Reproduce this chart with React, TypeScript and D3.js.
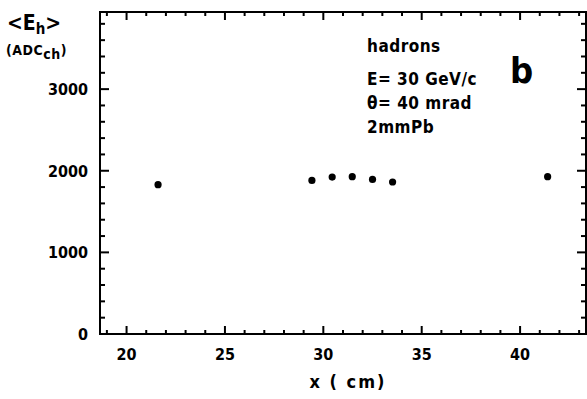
import React, { useEffect, useRef } from "react";
import * as d3 from "d3";

// measured points (x in cm, <Eh> in ADC channels)
const xPos = [21.6, 29.42, 30.45, 31.47, 32.5, 33.52, 41.4];
const eMean = [1830, 1882, 1923, 1927, 1894, 1862, 1927];

const xTickLabels = [20, 25, 30, 35, 40];
const yTickLabels = [0, 1000, 2000, 3000];
const infoLines = ["E= 30 GeV/c", "θ= 40 mrad", "2mmPb"];

const W = 587;
const H = 399;
const FONT = "'DejaVu Sans Condensed', 'DejaVu Sans', sans-serif";

const App = () => {
  const svgRef = useRef<SVGSVGElement>(null);

  useEffect(() => {
    const svg = d3.select(svgRef.current);
    svg.selectAll("*").remove();

    const margin = { top: 12, right: 1, bottom: 65, left: 100 };
    const x = d3.scaleLinear().domain([18.65, 43.35]).range([margin.left, W - margin.right]);
    const y = d3.scaleLinear().domain([0, 3945]).range([H - margin.bottom, margin.top]);

    const x0 = x.range()[0], x1 = x.range()[1];
    const y0 = y.range()[0], y1 = y.range()[1];

    const minorX = d3.range(19, 44, 1);
    const minorY = d3.range(200, 3945, 200);

    // frame
    svg
      .append("rect")
      .attr("x", x0)
      .attr("y", y1)
      .attr("width", x1 - x0)
      .attr("height", y0 - y1)
      .attr("fill", "none")
      .attr("stroke", "#000")
      .attr("stroke-width", 2);

    const tickG = svg.append("g").attr("stroke", "#000").attr("stroke-width", 2);

    // ticks on bottom and top, pointing inwards
    minorX.forEach((v) => {
      const len = v % 5 === 0 ? 8 : 4;
      tickG.append("line").attr("x1", x(v)).attr("x2", x(v)).attr("y1", y0).attr("y2", y0 - len);
      tickG.append("line").attr("x1", x(v)).attr("x2", x(v)).attr("y1", y1).attr("y2", y1 + len);
    });

    // ticks on left and right
    minorY.forEach((v) => {
      const len = v % 1000 === 0 ? 9 : 5;
      tickG.append("line").attr("x1", x0).attr("x2", x0 + len).attr("y1", y(v)).attr("y2", y(v));
      tickG.append("line").attr("x1", x1).attr("x2", x1 - len).attr("y1", y(v)).attr("y2", y(v));
    });

    const txt = svg
      .append("g")
      .attr("font-family", FONT)
      .attr("font-weight", "bold")
      .attr("fill", "#000");

    txt
      .selectAll("text.xl")
      .data(xTickLabels)
      .join("text")
      .attr("x", (d) => x(d))
      .attr("y", y0 + 26)
      .attr("text-anchor", "middle")
      .attr("font-size", 16)
      .text((d) => d);

    txt
      .selectAll("text.yl")
      .data(yTickLabels)
      .join("text")
      .attr("x", 88)
      .attr("y", (d) => y(d) + 6)
      .attr("text-anchor", "end")
      .attr("font-size", 16)
      .text((d) => d);

    // axis titles
    txt
      .append("text")
      .attr("x", 348)
      .attr("y", 388)
      .attr("text-anchor", "middle")
      .attr("font-size", 18)
      .attr("letter-spacing", 2)
      .text("x ( cm)");

    const eh = txt.append("text").attr("x", 7).attr("y", 30).attr("font-size", 21);
    eh.append("tspan").text("<E");
    eh.append("tspan").attr("font-size", 15).attr("dy", 4).text("h");
    eh.append("tspan").attr("dy", -4).text(">");

    const adc = txt
      .append("text")
      .attr("x", 6)
      .attr("y", 55)
      .attr("font-size", 14)
      .attr("letter-spacing", 0.5);
    adc.append("tspan").text("(ADC");
    adc.append("tspan").attr("dy", 4).text("ch");
    adc.append("tspan").attr("dy", -4).text(")");

    // annotations
    txt
      .append("text")
      .attr("x", 367)
      .attr("y", 52)
      .attr("font-size", 17)
      .attr("letter-spacing", 0.5)
      .text("hadrons");
    txt
      .selectAll("text.info")
      .data(infoLines)
      .join("text")
      .attr("x", 367)
      .attr("y", (d, i) => 85 + i * 24)
      .attr("font-size", 17)
      .attr("letter-spacing", 0.5)
      .text((d) => d);
    txt.append("text").attr("x", 510).attr("y", 83).attr("font-size", 36).text("b");

    // data points
    svg
      .append("g")
      .selectAll("circle")
      .data(xPos.map((v, i) => [v, eMean[i]]))
      .join("circle")
      .attr("cx", (d) => x(d[0]))
      .attr("cy", (d) => y(d[1]))
      .attr("r", 3.6)
      .attr("fill", "#000");
  }, []);

  return (
    <svg
      ref={svgRef}
      width={W}
      height={H}
      style={{ position: "absolute", left: 0, top: 0, background: "#fff" }}
    />
  );
};

export default App;
